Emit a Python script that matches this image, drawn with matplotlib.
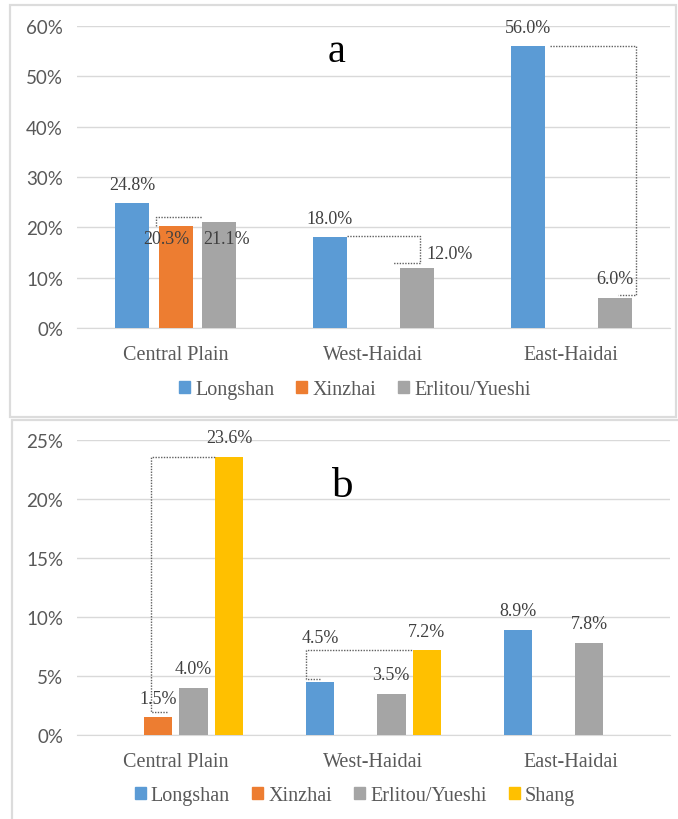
import numpy as np
import matplotlib.pyplot as plt
from matplotlib.patches import Patch, Rectangle

nan = np.nan

regions = ["Central Plain", "West-Haidai", "East-Haidai"]

# panel a
a_series = ["Longshan", "Xinzhai", "Erlitou/Yueshi"]
a_longshan = [24.8, 18.0, 56.0]
a_xinzhai = [20.3, nan, nan]
a_erlitou = [21.1, 12.0, 6.0]

# panel b
b_series = ["Longshan", "Xinzhai", "Erlitou/Yueshi", "Shang"]
b_longshan = [nan, 4.5, 8.9]
b_xinzhai = [1.5, nan, nan]
b_erlitou = [4.0, 3.5, 7.8]
b_shang = [23.6, 7.2, nan]

a_ticks = [0, 10, 20, 30, 40, 50, 60]
b_ticks = [0, 5, 10, 15, 20, 25]

colors = {"Longshan": "#5B9BD5", "Xinzhai": "#ED7D31",
          "Erlitou/Yueshi": "#A5A5A5", "Shang": "#FFC000"}

SERIF = ["Liberation Serif", "DejaVu Serif"]
SANS = ["Lato", "DejaVu Sans"]
GRID = "#D9D9D9"
TXT = "#595959"

fig = plt.figure(figsize=(6.78, 8.2), dpi=100)

# light frames around the two panels
W, H = 678, 820
for (x0, y0, x1, y1) in [(10, 6, 676, 418), (12, 421, 680, 824)]:
    fig.add_artist(Rectangle((x0 / W, 1 - y1 / H), (x1 - x0) / W, (y1 - y0) / H,
                             transform=fig.transFigure, fill=False,
                             edgecolor="#DCDCDC", lw=1.6))

ax_a = fig.add_axes([77 / W, 1 - 329 / H, 593 / W, 302 / H])
ax_b = fig.add_axes([77 / W, 1 - 736 / H, 593 / W, 295 / H])


def bar_panel(ax, names, data, width, pitch, ticks):
    x = np.arange(len(regions))
    n = len(names)
    offs = (np.arange(n) - (n - 1) / 2) * pitch
    for i, (name, vals) in enumerate(zip(names, data)):
        ax.bar(x + offs[i], vals, width, color=colors[name], zorder=3)
    ax.set_xlim(-0.5, len(regions) - 0.5)
    ax.set_ylim(ticks[0], ticks[-1])
    ax.set_yticks(ticks)
    ax.set_yticklabels([f"{t}%" for t in ticks], family=SANS, fontsize=13.5, color=TXT)
    ax.set_xticks(x)
    ax.set_xticklabels(regions, family=SERIF, fontsize=14.5, color=TXT)
    ax.tick_params(length=0)
    ax.tick_params(axis="x", pad=12)
    ax.tick_params(axis="y", pad=10)
    ax.grid(axis="y", color=GRID, lw=1, zorder=0)
    for s in ["top", "right", "left"]:
        ax.spines[s].set_visible(False)
    ax.spines["bottom"].set_color(GRID)
    ax.spines["bottom"].set_zorder(1)

    def bx(cat, ser, side=0.0):
        # side -1 left edge, 0 centre, 1 right edge
        return cat + offs[ser] + side * width / 2
    return bx


def labels(ax, bx, data, shifts):
    for s, vals in enumerate(data):
        for c, v in enumerate(vals):
            if np.isnan(v):
                continue
            dx, dy = shifts.get((c, s), (0, 19))
            ax.annotate(f"{v:.1f}%", (bx(c, s), v), xytext=(dx, -dy if False else dy),
                        textcoords="offset pixels", ha="center", va="center",
                        family=SERIF, fontsize=13, color="#404040", zorder=5)


def bracket(ax, pts):
    xs, ys = zip(*pts)
    ax.plot(xs, ys, ls=(0, (1, 1)), color="#606060", lw=1.0, zorder=4)


# ---- panel a
a_data = [a_longshan, a_xinzhai, a_erlitou]
bx = bar_panel(ax_a, a_series, a_data, 0.172, 0.22, a_ticks)
labels(ax_a, bx, a_data, {(0, 1): (-9, -13), (0, 2): (7, -17), (1, 2): (33, 14)})
bracket(ax_a, [(bx(0, 1, -1.18), a_xinzhai[0]), (bx(0, 1, -1.18), a_erlitou[0] + 1.0),
               (bx(0, 2, -1), a_erlitou[0] + 1.0)])
bracket(ax_a, [(bx(1, 0, 1), a_longshan[1] + 0.3), (bx(1, 2, 0.2), a_longshan[1] + 0.3),
               (bx(1, 2, 0.2), a_erlitou[1] + 0.9), (bx(1, 2, -1.4), a_erlitou[1] + 0.9)])
bracket(ax_a, [(bx(2, 0, 1.3), a_longshan[2] + 0.1), (bx(2, 2, 1.25), a_longshan[2] + 0.1),
               (bx(2, 2, 1.25), a_erlitou[2] + 0.6), (bx(2, 2, 0.2), a_erlitou[2] + 0.6)])
ax_a.text(337 / W, 1 - 52 / H, "a", transform=fig.transFigure, ha="center", va="center",
          family=SERIF, fontsize=29, color="black")

# ---- panel b
b_data = [b_longshan, b_xinzhai, b_erlitou, b_shang]
bx = bar_panel(ax_b, b_series, b_data, 0.144, 0.18, b_ticks)
labels(ax_b, bx, b_data, {(1, 0): (0, 44)})
bracket(ax_b, [(bx(0, 1, 0.6), b_xinzhai[0] + 0.45), (bx(0, 1, -0.5), b_xinzhai[0] + 0.45),
               (bx(0, 1, -0.5), b_shang[0] - 0.05), (bx(0, 3, -1), b_shang[0] - 0.05)])
bracket(ax_b, [(bx(1, 0, 0), b_longshan[1] + 0.26), (bx(1, 0, -1), b_longshan[1] + 0.26),
               (bx(1, 0, -1), b_shang[1]), (bx(1, 3, -1), b_shang[1])])
ax_b.text(343 / W, 1 - 487 / H, "b", transform=fig.transFigure, ha="center", va="center",
          family=SERIF, fontsize=31, color="black")

# legends
leg_kw = dict(loc="center", frameon=False, handlelength=0.55, handleheight=0.55,
              handletextpad=0.25, columnspacing=1.1, borderaxespad=0,
              prop={"family": SERIF, "size": 14.5})
for names, yc in [(a_series, 391), (b_series, 797)]:
    h = [Patch(color=colors[n]) for n in names]
    leg = fig.legend(h, names, ncol=len(names), bbox_to_anchor=(355 / W, 1 - yc / H), **leg_kw)
    for t in leg.get_texts():
        t.set_color(TXT)

fig.savefig("out.png", dpi=100)
